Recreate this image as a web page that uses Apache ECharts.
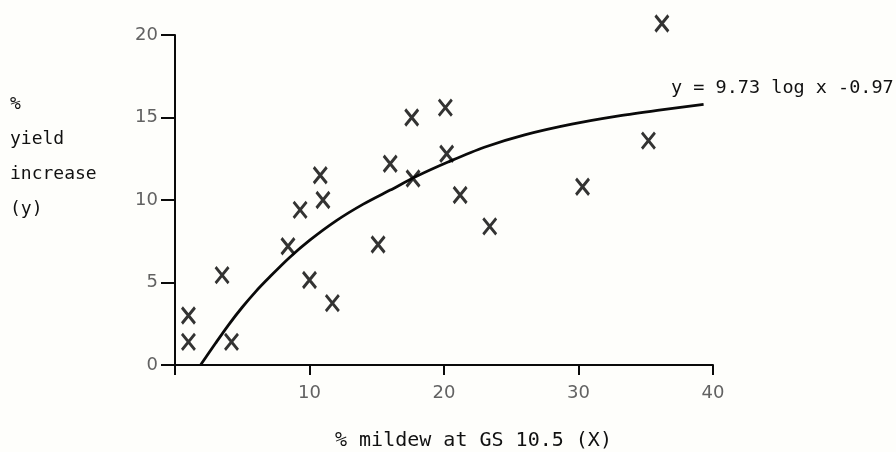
<!DOCTYPE html>
<html>
<head>
<meta charset="utf-8">
<script src="https://cdn.jsdelivr.net/npm/echarts@6/dist/echarts.min.js"></script>
<style>
html,body{margin:0;padding:0;background:#fefefb;}
#chart{width:896px;height:452px;}
</style>
</head>
<body>
<div id="chart"></div>
<script>
// Observed points: % mildew at GS 10.5 (x) vs % yield increase (y)
const mildewX = [1.0, 1.0, 3.5, 4.2, 8.4, 9.3, 10.0, 10.8, 11.0, 11.7, 15.1, 16.0, 17.6, 17.7, 20.1, 20.2, 21.2, 23.4, 30.3, 35.2, 36.2];
const yieldY  = [3.0, 1.4, 5.45, 1.4, 7.2, 9.4, 5.15, 11.5, 10.0, 3.75, 7.3, 12.2, 15.0, 11.3, 15.6, 12.8, 10.3, 8.4, 10.8, 13.6, 20.7];

// Fitted curve as drawn in the figure
const curveX = [1.9, 3.0, 4.0, 5.0, 6.0, 7.0, 8.5, 10.0, 12.0, 14.0, 16.0, 18.0, 20.3, 23.0, 26.0, 29.5, 33.0, 36.0, 39.3];
const curveY = [0, 1.3, 2.45, 3.5, 4.45, 5.3, 6.5, 7.55, 8.75, 9.75, 10.6, 11.45, 12.3, 13.2, 13.95, 14.6, 15.1, 15.45, 15.8];

const xTicks = [10, 20, 30, 40];
const yTicks = [0, 5, 10, 15, 20];

const equationText = 'y = 9.73 log x -0.97';
const yTitle = '%\nyield\nincrease\n(y)';
const xTitle = '% mildew at GS 10.5 (X)';

const chart = echarts.init(document.getElementById('chart'), null, {renderer: 'canvas'});

const ink = '#0a0a0a';
const numColor = '#626262';
const mono = '"DejaVu Sans Mono", "Liberation Mono", monospace';

chart.setOption({
  backgroundColor: '#fefefb',
  animation: false,
  grid: {left: 175, right: 183, top: 35, bottom: 87},
  xAxis: {
    type: 'value', min: 0, max: 40, interval: 10,
    axisLine: {show: true, onZero: false, lineStyle: {color: ink, width: 2}},
    axisTick: {show: true, length: 10, lineStyle: {color: ink, width: 2}},
    splitLine: {show: false},
    axisLabel: {
      margin: 19, color: numColor, fontSize: 18, fontFamily: 'DejaVu Sans',
      formatter: v => xTicks.includes(v) ? String(v) : ''
    }
  },
  yAxis: {
    type: 'value', min: 0, max: 20, interval: 5,
    axisLine: {show: true, onZero: false, lineStyle: {color: ink, width: 2}},
    axisTick: {show: true, length: 14, lineStyle: {color: ink, width: 2}},
    splitLine: {show: false},
    axisLabel: {
      margin: 17, color: numColor, fontSize: 18, fontFamily: 'DejaVu Sans',
      formatter: v => yTicks.includes(v) ? String(v) : ''
    }
  },
  graphic: [
    {type: 'text', left: 671, top: 79,
     style: {text: equationText, font: '18.5px ' + mono, fill: '#111'}},
    {type: 'text', left: 10, top: 87,
     style: {text: yTitle, font: '18px ' + mono, fill: '#111', lineHeight: 35}},
    {type: 'text', left: 335, top: 431,
     style: {text: xTitle, font: '20px ' + mono, fill: '#111'}}
  ],
  series: [
    {
      type: 'line',
      data: curveX.map((x, i) => [x, curveY[i]]),
      smooth: 0.3,
      showSymbol: false,
      clip: false,
      lineStyle: {color: ink, width: 2.8},
      z: 2
    },
    {
      type: 'scatter',
      data: mildewX.map((x, i) => [x, yieldY[i]]),
      symbol: 'path://M0,0L10,12M10,0L0,12',
      symbolSize: [13, 16],
      clip: false,
      itemStyle: {color: 'rgba(0,0,0,0)', borderColor: '#000', borderWidth: 3},
      z: 3
    }
  ]
});
</script>
</body>
</html>
